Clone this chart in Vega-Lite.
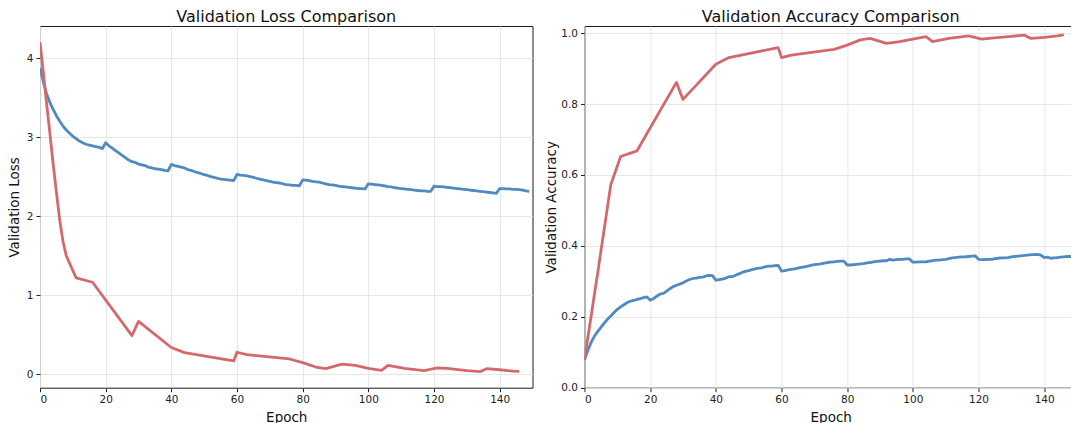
{
  "$schema": "https://vega.github.io/schema/vega-lite/v6.json",
  "background": "white",
  "padding": {"left": 6, "top": 8, "right": 0, "bottom": 0},
  "datasets": {
    "runs": [
      {"model": "A", "epoch": 0, "loss": 3.88, "acc": 0.078},
      {"model": "A", "epoch": 1, "loss": 3.70, "acc": 0.105},
      {"model": "A", "epoch": 2, "loss": 3.55, "acc": 0.127},
      {"model": "A", "epoch": 3, "loss": 3.44, "acc": 0.145},
      {"model": "A", "epoch": 4, "loss": 3.35, "acc": 0.158},
      {"model": "A", "epoch": 5, "loss": 3.27, "acc": 0.170},
      {"model": "A", "epoch": 6, "loss": 3.20, "acc": 0.182},
      {"model": "A", "epoch": 7, "loss": 3.14, "acc": 0.193},
      {"model": "A", "epoch": 8, "loss": 3.09, "acc": 0.202},
      {"model": "A", "epoch": 9, "loss": 3.05, "acc": 0.212},
      {"model": "A", "epoch": 10, "loss": 3.01, "acc": 0.221},
      {"model": "A", "epoch": 11, "loss": 2.98, "acc": 0.228},
      {"model": "A", "epoch": 12, "loss": 2.95, "acc": 0.234},
      {"model": "A", "epoch": 13, "loss": 2.93, "acc": 0.240},
      {"model": "A", "epoch": 14, "loss": 2.91, "acc": 0.244},
      {"model": "A", "epoch": 15, "loss": 2.90, "acc": 0.246},
      {"model": "A", "epoch": 16, "loss": 2.89, "acc": 0.249},
      {"model": "A", "epoch": 17, "loss": 2.88, "acc": 0.251},
      {"model": "A", "epoch": 18, "loss": 2.87, "acc": 0.254},
      {"model": "A", "epoch": 19, "loss": 2.855, "acc": 0.256},
      {"model": "A", "epoch": 20, "loss": 2.93, "acc": 0.247},
      {"model": "A", "epoch": 21, "loss": 2.89, "acc": 0.251},
      {"model": "A", "epoch": 22, "loss": 2.86, "acc": 0.258},
      {"model": "A", "epoch": 23, "loss": 2.83, "acc": 0.264},
      {"model": "A", "epoch": 24, "loss": 2.80, "acc": 0.266},
      {"model": "A", "epoch": 25, "loss": 2.77, "acc": 0.272},
      {"model": "A", "epoch": 26, "loss": 2.74, "acc": 0.279},
      {"model": "A", "epoch": 27, "loss": 2.71, "acc": 0.285},
      {"model": "A", "epoch": 28, "loss": 2.69, "acc": 0.289},
      {"model": "A", "epoch": 29, "loss": 2.68, "acc": 0.292},
      {"model": "A", "epoch": 30, "loss": 2.66, "acc": 0.296},
      {"model": "A", "epoch": 31, "loss": 2.65, "acc": 0.301},
      {"model": "A", "epoch": 32, "loss": 2.64, "acc": 0.305},
      {"model": "A", "epoch": 33, "loss": 2.62, "acc": 0.308},
      {"model": "A", "epoch": 34, "loss": 2.61, "acc": 0.309},
      {"model": "A", "epoch": 35, "loss": 2.60, "acc": 0.311},
      {"model": "A", "epoch": 36, "loss": 2.595, "acc": 0.312},
      {"model": "A", "epoch": 37, "loss": 2.59, "acc": 0.315},
      {"model": "A", "epoch": 38, "loss": 2.58, "acc": 0.317},
      {"model": "A", "epoch": 39, "loss": 2.575, "acc": 0.316},
      {"model": "A", "epoch": 40, "loss": 2.655, "acc": 0.303},
      {"model": "A", "epoch": 41, "loss": 2.64, "acc": 0.305},
      {"model": "A", "epoch": 42, "loss": 2.63, "acc": 0.306},
      {"model": "A", "epoch": 43, "loss": 2.62, "acc": 0.309},
      {"model": "A", "epoch": 44, "loss": 2.61, "acc": 0.313},
      {"model": "A", "epoch": 45, "loss": 2.59, "acc": 0.313},
      {"model": "A", "epoch": 46, "loss": 2.58, "acc": 0.317},
      {"model": "A", "epoch": 47, "loss": 2.565, "acc": 0.321},
      {"model": "A", "epoch": 48, "loss": 2.55, "acc": 0.325},
      {"model": "A", "epoch": 49, "loss": 2.54, "acc": 0.328},
      {"model": "A", "epoch": 50, "loss": 2.525, "acc": 0.330},
      {"model": "A", "epoch": 51, "loss": 2.515, "acc": 0.333},
      {"model": "A", "epoch": 52, "loss": 2.50, "acc": 0.335},
      {"model": "A", "epoch": 53, "loss": 2.49, "acc": 0.337},
      {"model": "A", "epoch": 54, "loss": 2.48, "acc": 0.338},
      {"model": "A", "epoch": 55, "loss": 2.47, "acc": 0.341},
      {"model": "A", "epoch": 56, "loss": 2.465, "acc": 0.343},
      {"model": "A", "epoch": 57, "loss": 2.46, "acc": 0.343},
      {"model": "A", "epoch": 58, "loss": 2.455, "acc": 0.344},
      {"model": "A", "epoch": 59, "loss": 2.45, "acc": 0.345},
      {"model": "A", "epoch": 60, "loss": 2.53, "acc": 0.329},
      {"model": "A", "epoch": 61, "loss": 2.52, "acc": 0.330},
      {"model": "A", "epoch": 62, "loss": 2.515, "acc": 0.332},
      {"model": "A", "epoch": 63, "loss": 2.51, "acc": 0.334},
      {"model": "A", "epoch": 64, "loss": 2.50, "acc": 0.335},
      {"model": "A", "epoch": 65, "loss": 2.49, "acc": 0.337},
      {"model": "A", "epoch": 66, "loss": 2.48, "acc": 0.339},
      {"model": "A", "epoch": 67, "loss": 2.47, "acc": 0.341},
      {"model": "A", "epoch": 68, "loss": 2.46, "acc": 0.343},
      {"model": "A", "epoch": 69, "loss": 2.45, "acc": 0.345},
      {"model": "A", "epoch": 70, "loss": 2.44, "acc": 0.347},
      {"model": "A", "epoch": 71, "loss": 2.43, "acc": 0.348},
      {"model": "A", "epoch": 72, "loss": 2.425, "acc": 0.349},
      {"model": "A", "epoch": 73, "loss": 2.42, "acc": 0.351},
      {"model": "A", "epoch": 74, "loss": 2.41, "acc": 0.353},
      {"model": "A", "epoch": 75, "loss": 2.40, "acc": 0.354},
      {"model": "A", "epoch": 76, "loss": 2.395, "acc": 0.355},
      {"model": "A", "epoch": 77, "loss": 2.39, "acc": 0.356},
      {"model": "A", "epoch": 78, "loss": 2.39, "acc": 0.357},
      {"model": "A", "epoch": 79, "loss": 2.385, "acc": 0.357},
      {"model": "A", "epoch": 80, "loss": 2.46, "acc": 0.346},
      {"model": "A", "epoch": 81, "loss": 2.455, "acc": 0.346},
      {"model": "A", "epoch": 82, "loss": 2.45, "acc": 0.347},
      {"model": "A", "epoch": 83, "loss": 2.44, "acc": 0.348},
      {"model": "A", "epoch": 84, "loss": 2.435, "acc": 0.349},
      {"model": "A", "epoch": 85, "loss": 2.43, "acc": 0.350},
      {"model": "A", "epoch": 86, "loss": 2.42, "acc": 0.352},
      {"model": "A", "epoch": 87, "loss": 2.41, "acc": 0.353},
      {"model": "A", "epoch": 88, "loss": 2.40, "acc": 0.355},
      {"model": "A", "epoch": 89, "loss": 2.395, "acc": 0.356},
      {"model": "A", "epoch": 90, "loss": 2.39, "acc": 0.357},
      {"model": "A", "epoch": 91, "loss": 2.38, "acc": 0.358},
      {"model": "A", "epoch": 92, "loss": 2.375, "acc": 0.358},
      {"model": "A", "epoch": 93, "loss": 2.37, "acc": 0.362},
      {"model": "A", "epoch": 94, "loss": 2.365, "acc": 0.360},
      {"model": "A", "epoch": 95, "loss": 2.36, "acc": 0.361},
      {"model": "A", "epoch": 96, "loss": 2.355, "acc": 0.362},
      {"model": "A", "epoch": 97, "loss": 2.35, "acc": 0.362},
      {"model": "A", "epoch": 98, "loss": 2.35, "acc": 0.363},
      {"model": "A", "epoch": 99, "loss": 2.345, "acc": 0.363},
      {"model": "A", "epoch": 100, "loss": 2.41, "acc": 0.354},
      {"model": "A", "epoch": 101, "loss": 2.405, "acc": 0.354},
      {"model": "A", "epoch": 102, "loss": 2.40, "acc": 0.355},
      {"model": "A", "epoch": 103, "loss": 2.395, "acc": 0.355},
      {"model": "A", "epoch": 104, "loss": 2.39, "acc": 0.355},
      {"model": "A", "epoch": 105, "loss": 2.385, "acc": 0.357},
      {"model": "A", "epoch": 106, "loss": 2.375, "acc": 0.358},
      {"model": "A", "epoch": 107, "loss": 2.37, "acc": 0.360},
      {"model": "A", "epoch": 108, "loss": 2.36, "acc": 0.360},
      {"model": "A", "epoch": 109, "loss": 2.355, "acc": 0.361},
      {"model": "A", "epoch": 110, "loss": 2.35, "acc": 0.362},
      {"model": "A", "epoch": 111, "loss": 2.345, "acc": 0.364},
      {"model": "A", "epoch": 112, "loss": 2.34, "acc": 0.366},
      {"model": "A", "epoch": 113, "loss": 2.335, "acc": 0.367},
      {"model": "A", "epoch": 114, "loss": 2.33, "acc": 0.368},
      {"model": "A", "epoch": 115, "loss": 2.325, "acc": 0.369},
      {"model": "A", "epoch": 116, "loss": 2.32, "acc": 0.369},
      {"model": "A", "epoch": 117, "loss": 2.32, "acc": 0.370},
      {"model": "A", "epoch": 118, "loss": 2.315, "acc": 0.371},
      {"model": "A", "epoch": 119, "loss": 2.315, "acc": 0.372},
      {"model": "A", "epoch": 120, "loss": 2.38, "acc": 0.362},
      {"model": "A", "epoch": 121, "loss": 2.375, "acc": 0.361},
      {"model": "A", "epoch": 122, "loss": 2.375, "acc": 0.361},
      {"model": "A", "epoch": 123, "loss": 2.37, "acc": 0.362},
      {"model": "A", "epoch": 124, "loss": 2.365, "acc": 0.362},
      {"model": "A", "epoch": 125, "loss": 2.36, "acc": 0.364},
      {"model": "A", "epoch": 126, "loss": 2.355, "acc": 0.365},
      {"model": "A", "epoch": 127, "loss": 2.35, "acc": 0.366},
      {"model": "A", "epoch": 128, "loss": 2.345, "acc": 0.366},
      {"model": "A", "epoch": 129, "loss": 2.34, "acc": 0.367},
      {"model": "A", "epoch": 130, "loss": 2.335, "acc": 0.369},
      {"model": "A", "epoch": 131, "loss": 2.33, "acc": 0.370},
      {"model": "A", "epoch": 132, "loss": 2.325, "acc": 0.371},
      {"model": "A", "epoch": 133, "loss": 2.32, "acc": 0.372},
      {"model": "A", "epoch": 134, "loss": 2.315, "acc": 0.373},
      {"model": "A", "epoch": 135, "loss": 2.31, "acc": 0.374},
      {"model": "A", "epoch": 136, "loss": 2.305, "acc": 0.375},
      {"model": "A", "epoch": 137, "loss": 2.30, "acc": 0.375},
      {"model": "A", "epoch": 138, "loss": 2.295, "acc": 0.376},
      {"model": "A", "epoch": 139, "loss": 2.29, "acc": 0.374},
      {"model": "A", "epoch": 140, "loss": 2.35, "acc": 0.367},
      {"model": "A", "epoch": 141, "loss": 2.35, "acc": 0.368},
      {"model": "A", "epoch": 142, "loss": 2.345, "acc": 0.365},
      {"model": "A", "epoch": 143, "loss": 2.345, "acc": 0.366},
      {"model": "A", "epoch": 144, "loss": 2.34, "acc": 0.367},
      {"model": "A", "epoch": 145, "loss": 2.34, "acc": 0.368},
      {"model": "A", "epoch": 146, "loss": 2.335, "acc": 0.369},
      {"model": "A", "epoch": 147, "loss": 2.33, "acc": 0.370},
      {"model": "A", "epoch": 148, "loss": 2.32, "acc": 0.370},
      {"model": "A", "epoch": 149, "loss": 2.315, "acc": 0.370},
      {"model": "B", "epoch": 0, "loss": 4.20, "acc": 0.078},
      {"model": "B", "epoch": 1, "loss": 3.82, "acc": 0.140},
      {"model": "B", "epoch": 2, "loss": 3.43, "acc": 0.200},
      {"model": "B", "epoch": 3, "loss": 3.05, "acc": 0.262},
      {"model": "B", "epoch": 4, "loss": 2.66, "acc": 0.322},
      {"model": "B", "epoch": 5, "loss": 2.30, "acc": 0.385},
      {"model": "B", "epoch": 6, "loss": 1.95, "acc": 0.447},
      {"model": "B", "epoch": 7, "loss": 1.68, "acc": 0.510},
      {"model": "B", "epoch": 8, "loss": 1.50, "acc": 0.572},
      {"model": "B", "epoch": 11, "loss": 1.22, "acc": 0.652},
      {"model": "B", "epoch": 16, "loss": 1.165, "acc": 0.668},
      {"model": "B", "epoch": 28, "loss": 0.49, "acc": 0.861},
      {"model": "B", "epoch": 30, "loss": 0.67, "acc": 0.813},
      {"model": "B", "epoch": 40, "loss": 0.34, "acc": 0.912},
      {"model": "B", "epoch": 44, "loss": 0.275, "acc": 0.931},
      {"model": "B", "epoch": 59, "loss": 0.17, "acc": 0.959},
      {"model": "B", "epoch": 60, "loss": 0.28, "acc": 0.931},
      {"model": "B", "epoch": 63, "loss": 0.25, "acc": 0.938},
      {"model": "B", "epoch": 76, "loss": 0.195, "acc": 0.954},
      {"model": "B", "epoch": 80, "loss": 0.148, "acc": 0.966},
      {"model": "B", "epoch": 84, "loss": 0.093, "acc": 0.981},
      {"model": "B", "epoch": 87, "loss": 0.072, "acc": 0.985},
      {"model": "B", "epoch": 92, "loss": 0.13, "acc": 0.971},
      {"model": "B", "epoch": 96, "loss": 0.114, "acc": 0.976},
      {"model": "B", "epoch": 100, "loss": 0.075, "acc": 0.983},
      {"model": "B", "epoch": 104, "loss": 0.051, "acc": 0.990},
      {"model": "B", "epoch": 106, "loss": 0.114, "acc": 0.976},
      {"model": "B", "epoch": 111, "loss": 0.075, "acc": 0.985},
      {"model": "B", "epoch": 117, "loss": 0.047, "acc": 0.992},
      {"model": "B", "epoch": 121, "loss": 0.081, "acc": 0.983},
      {"model": "B", "epoch": 124, "loss": 0.077, "acc": 0.986},
      {"model": "B", "epoch": 130, "loss": 0.047, "acc": 0.991},
      {"model": "B", "epoch": 134, "loss": 0.034, "acc": 0.994},
      {"model": "B", "epoch": 136, "loss": 0.072, "acc": 0.985},
      {"model": "B", "epoch": 140, "loss": 0.059, "acc": 0.988},
      {"model": "B", "epoch": 144, "loss": 0.042, "acc": 0.992},
      {"model": "B", "epoch": 146, "loss": 0.038, "acc": 0.995}
    ]
  },
  "data": {"name": "runs"},
  "spacing": 51.5,
  "bounds": "flush",
  "hconcat": [
    {
      "width": 492.5,
      "height": 361.7,
      "title": "Validation Loss Comparison",
      "mark": {"type": "line", "strokeWidth": 2.8, "clip": true, "strokeJoin": "round", "strokeCap": "butt"},
      "encoding": {
        "x": {
          "field": "epoch", "type": "quantitative",
          "scale": {"domain": [0, 150], "nice": false, "zero": false},
          "axis": {"title": "Epoch", "values": [0, 20, 40, 60, 80, 100, 120, 140], "titlePadding": 5}
        },
        "y": {
          "field": "loss", "type": "quantitative",
          "scale": {"domain": [-0.168, 4.405], "nice": false, "zero": false},
          "axis": {"title": "Validation Loss", "values": [0, 1, 2, 3, 4], "titlePadding": 5}
        },
        "color": {
          "field": "model", "type": "nominal",
          "scale": {"domain": ["A", "B"], "range": ["#4f8ac0", "#d4696b"]},
          "legend": null
        }
      }
    },
    {
      "width": 492.5,
      "height": 361.7,
      "title": "Validation Accuracy Comparison",
      "mark": {"type": "line", "strokeWidth": 2.8, "clip": true, "strokeJoin": "round", "strokeCap": "butt"},
      "encoding": {
        "x": {
          "field": "epoch", "type": "quantitative",
          "scale": {"domain": [0, 150], "nice": false, "zero": false},
          "axis": {"title": "Epoch", "values": [0, 20, 40, 60, 80, 100, 120, 140], "titlePadding": 5}
        },
        "y": {
          "field": "acc", "type": "quantitative",
          "scale": {"domain": [0, 1.02], "nice": false, "zero": false},
          "axis": {"title": "Validation Accuracy", "values": [0, 0.2, 0.4, 0.6, 0.8, 1.0], "format": ".1f", "titlePadding": 2}
        },
        "color": {
          "field": "model", "type": "nominal",
          "scale": {"domain": ["A", "B"], "range": ["#4f8ac0", "#d4696b"]},
          "legend": null
        }
      }
    }
  ],
  "config": {
    "font": "DejaVu Sans",
    "view": {"stroke": "#1a1a1a", "strokeWidth": 1},
    "axis": {
      "labelFont": "DejaVu Sans",
      "labelFontSize": 10.5,
      "labelColor": "#222222",
      "titleFont": "DejaVu Sans",
      "titleFontSize": 13.5,
      "titleFontWeight": "normal",
      "titleColor": "#111111",
      "tickColor": "#222222",
      "tickSize": 4,
      "tickWidth": 1,
      "domain": false,
      "grid": true,
      "gridColor": "#e4e4e4",
      "gridWidth": 0.9,
      "labelPadding": 3
    },
    "title": {
      "font": "DejaVu Sans",
      "fontSize": 16,
      "fontWeight": "normal",
      "color": "#111111",
      "anchor": "middle",
      "frame": "group",
      "offset": 1,
      "baseline": "alphabetic"
    }
  }
}
